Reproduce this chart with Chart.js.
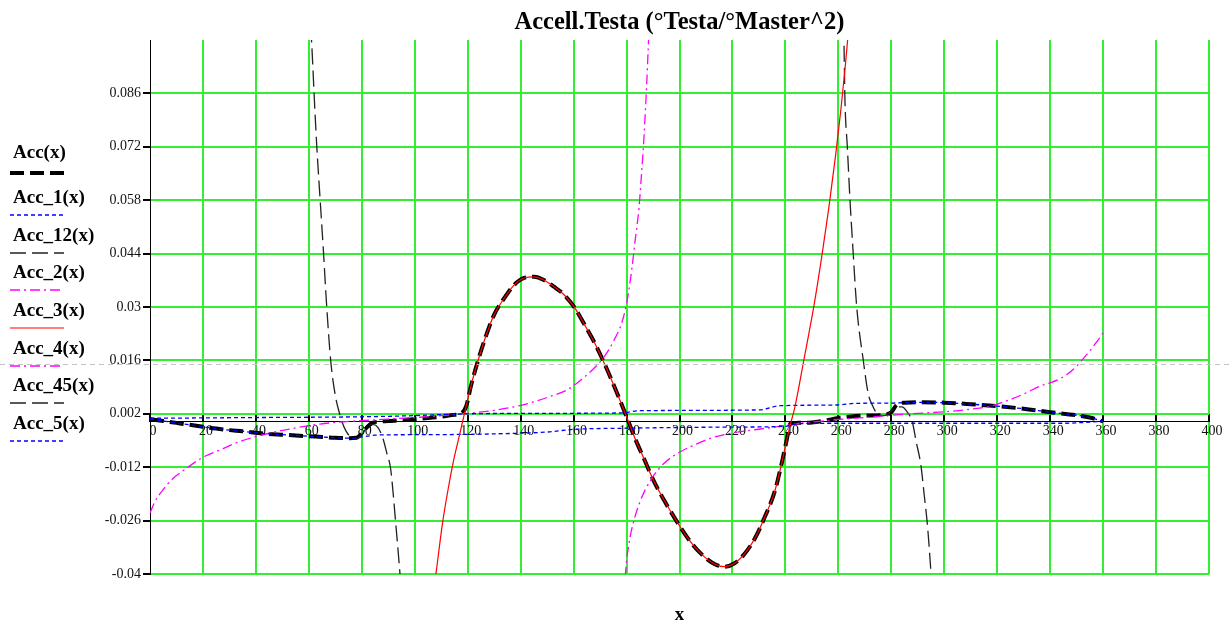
<!DOCTYPE html>
<html>
<head>
<meta charset="utf-8">
<title>Accell.Testa</title>
<script src="https://cdn.jsdelivr.net/npm/chart.js@4.4.1/dist/chart.umd.min.js"></script>
<style>
  html, body { margin: 0; padding: 0; background: #fff; }
</style>
</head>
<body>
<canvas id="acc-chart" width="1232" height="624"></canvas>
<script>
// legend names, in the order Mathcad lists them
const seriesNames = ["Acc(x)", "Acc_1(x)", "Acc_12(x)", "Acc_2(x)", "Acc_3(x)", "Acc_4(x)", "Acc_45(x)", "Acc_5(x)"];

const xTicks = [0, 20, 40, 60, 80, 100, 120, 140, 160, 180, 200, 220, 240, 260, 280, 300, 320, 340, 360, 380, 400];
const yTicks = [-0.04, -0.026, -0.012, 0.002, 0.016, 0.03, 0.044, 0.058, 0.072, 0.086];
const yTickLabels = ["-0.04", "-0.026", "-0.012", "0.002", "0.016", "0.03", "0.044", "0.058", "0.072", "0.086"];
const markerY = 0.0151;   // grey horizontal marker

// Acc(x) - thick black dashed
const accX = [0, 5, 10, 15, 20, 25, 30, 35, 40, 45, 50, 55, 60, 65, 70, 75, 78, 80, 82, 84, 86, 90, 95, 100, 105, 110, 115, 117,
  119.4, 121.3, 123.8, 126.3, 130, 133.8, 137.6, 141.3, 145.1, 148.9, 152.6, 156.4, 160.2, 164, 168, 172, 176, 180, 183.4, 186.6,
  190.4, 194.2, 199.2, 203, 208.1, 213.2, 217, 220.8, 224.6, 228.4, 232.2, 236, 238.5, 240.4, 242,
  244, 250, 255, 260, 265, 270, 278, 280, 282, 285, 290, 300, 310, 320, 330, 340, 350, 355, 360];
const accY = [0.0006, 0.0001, -0.0004, -0.0009, -0.0014, -0.0019, -0.0023, -0.0026, -0.003, -0.0033, -0.0035, -0.0037, -0.0039, -0.0041, -0.0043, -0.0044, -0.0043, -0.0032, -0.0015, -0.0004, -0.0001, 0.0001, 0.0003, 0.0006, 0.0009, 0.0012, 0.0017, 0.0019,
  0.0039, 0.0095, 0.0157, 0.0212, 0.028, 0.0323, 0.0358, 0.0376, 0.0379, 0.037, 0.0353, 0.0332, 0.030, 0.0255, 0.0205, 0.0146, 0.0081, 0.0012, -0.0048, -0.0098,
  -0.0158, -0.0207, -0.0265, -0.0305, -0.0347, -0.0374, -0.0381, -0.0372, -0.0347, -0.0308, -0.0251, -0.0183, -0.0113, -0.0052, -0.0005,
  -0.0004, -0.0003, 0.0002, 0.0009, 0.0013, 0.0015, 0.0018, 0.0024, 0.0043, 0.0049, 0.005, 0.0049, 0.0045, 0.004, 0.0033, 0.0024, 0.0016, 0.001, 0];

// Acc_1(x) - blue dotted, lower one
const acc1X = [0, 5, 10, 15, 20, 25, 30, 35, 40, 45, 50, 55, 60, 65, 70, 75, 78,
  82, 85, 100, 120, 140, 150, 160, 180, 200, 220, 240, 245, 260, 300, 345, 355, 360];
const acc1Y = [0.0006, 0.0001, -0.0004, -0.0009, -0.0014, -0.0019, -0.0023, -0.0026, -0.003, -0.0033, -0.0035, -0.0037, -0.0039, -0.0041, -0.0043, -0.0044, -0.0043,
  -0.0039, -0.0036, -0.0035, -0.0034, -0.0031, -0.0028, -0.0021, -0.0018, -0.0016, -0.0015, -0.0013, -0.0006, -0.0005, -0.0005, -0.0005, -0.0002, 0];

// Acc_12(x) - black long dash, left
const acc12X = [59.5, 61, 62.3, 63, 64.2, 65.5, 66.7, 68.3, 69.9, 71.8, 72.4, 74, 76, 78, 80, 82, 84, 86, 88, 89.5, 90.9, 92.8, 94.4, 95.2];
const acc12Y = [0.115, 0.1, 0.0813, 0.072, 0.0588, 0.0447, 0.0306, 0.0156, 0.0072, 0.0015, 0.0001, -0.0025, -0.0042, -0.0046, -0.0035, -0.0015, -0.0008, -0.0015, -0.0045, -0.0085, -0.0125, -0.0266, -0.0398, -0.047];

// Acc_2(x) - magenta dash-dot, first half
const acc2X = [0, 1.9, 4.4, 8.2, 14, 19.5, 26.4, 32.7, 41.5, 52.9, 64.2, 75.5, 90, 100, 110, 120, 130, 141.3, 151.4, 157.7,
  163.9, 171.5, 175.2, 178.4, 180.3, 182.1, 183.1, 184.7, 185.7, 186.6, 187.3, 187.9, 188.3, 188.7];
const acc2Y = [-0.024, -0.021, -0.0184, -0.0153, -0.0122, -0.0096, -0.0075, -0.0056, -0.0037, -0.002, -0.0007, 0, 0.0006, 0.001, 0.0015, 0.0021, 0.0029, 0.0044, 0.0066, 0.0083,
  0.0115, 0.0169, 0.0212, 0.0263, 0.032, 0.0405, 0.0466, 0.056, 0.0653, 0.0747, 0.084, 0.093, 0.1, 0.108];

// Acc_3(x) - red solid
const acc3X = [106, 108, 110.5, 112.5, 114.6, 116.5, 118,
  119.4, 121.3, 123.8, 126.3, 130, 133.8, 137.6, 141.3, 145.1, 148.9, 152.6, 156.4, 160.2, 164, 168, 172, 176, 180, 183.4, 186.6,
  190.4, 194.2, 199.2, 203, 208.1, 213.2, 217, 220.8, 224.6, 228.4, 232.2, 236, 238.5, 240.4, 242,
  243.5, 247, 250.7, 253.9, 256.4, 259, 261, 262.6, 263.5, 264.5];
const acc3Y = [-0.05, -0.04, -0.0266, -0.0182, -0.0105, -0.0048, -0.0003,
  0.0039, 0.0095, 0.0157, 0.0212, 0.028, 0.0323, 0.0358, 0.0376, 0.0379, 0.037, 0.0353, 0.0332, 0.030, 0.0255, 0.0205, 0.0146, 0.0081, 0.0012, -0.0048, -0.0098,
  -0.0158, -0.0207, -0.0265, -0.0305, -0.0347, -0.0374, -0.0381, -0.0372, -0.0347, -0.0308, -0.0251, -0.0183, -0.0113, -0.0052, -0.0005,
  0.0035, 0.0162, 0.030, 0.044, 0.056, 0.070, 0.082, 0.093, 0.1, 0.108];

// Acc_4(x) - magenta dash-dot, second half
const acc4X = [179.2, 179.6, 180.9, 182.8, 185.3, 189.1, 194.2, 200.5, 205.6, 211.9, 219.5, 228.4, 236, 245.5, 253, 260,
  270, 280, 290, 300, 310, 317, 322, 326, 331, 336, 340, 344, 348.7, 353.8, 357, 360];
const acc4Y = [-0.046, -0.04, -0.0321, -0.026, -0.0207, -0.0154, -0.011, -0.0079, -0.0062, -0.0044, -0.0031, -0.0022, -0.0015, -0.0005, 0, 0.0005,
  0.001, 0.0016, 0.0021, 0.0025, 0.0032, 0.0039, 0.005, 0.006, 0.0075, 0.0092, 0.0101, 0.0113, 0.0136, 0.0175, 0.0203, 0.0232];

// Acc_45(x) - black long dash, right
const acc45X = [261.6, 262.1, 262.5, 263.4, 264.4, 265.6, 266.9, 269.4, 271.3, 272.8, 274.7, 277.3, 279.8, 282.3, 284, 286, 288, 289.3, 291.2, 292.4, 293.7, 295, 295.6];
const acc45Y = [0.11, 0.1, 0.0841, 0.0719, 0.058, 0.0442, 0.0303, 0.0161, 0.0072, 0.0043, 0.002, 0.0015, 0.0025, 0.0038, 0.0038, 0.0025, -0.0003, -0.005, -0.0116, -0.0191, -0.0276, -0.0398, -0.046];

// Acc_5(x) - blue dotted, upper one
const acc5X = [0, 40, 80, 100, 115, 140, 178, 185, 230, 238, 260, 266, 280, 290, 300, 310, 320, 330, 340, 350, 355, 360];
const acc5Y = [0.0008, 0.001, 0.0012, 0.0015, 0.0019, 0.0021, 0.0022, 0.0028, 0.003, 0.0041, 0.0043, 0.0047, 0.0048, 0.005, 0.0049, 0.0045, 0.004, 0.0033, 0.0024, 0.0016, 0.001, 0];


function pts(xs, ys) {
  return xs.map((x, i) => ({ x: x, y: ys[i] }));
}

function serie(i, xs, ys, color, width, dash, order) {
  return {
    label: seriesNames[i],
    data: pts(xs, ys),
    borderColor: color,
    borderWidth: width,
    borderDash: dash,
    borderCapStyle: 'butt',
    pointRadius: 0,
    fill: false,
    cubicInterpolationMode: 'monotone',
    order: order
  };
}

const gridGreen = '#33ee33';
const serif = '"Liberation Serif", "Times New Roman", serif';

// legend on the left: name on top, line sample under it
const sideLegend = {
  id: 'sideLegend',
  afterDraw(chart) {
    const ctx = chart.ctx;
    const tops = [145, 190, 228, 265, 303, 341, 378, 416];
    ctx.save();
    // grey marker line across the whole picture
    const my = Math.round(chart.scales.y.getPixelForValue(markerY)) + 0.5;
    ctx.strokeStyle = '#c4c4c4';
    ctx.lineWidth = 1;
    ctx.setLineDash([5, 4]);
    ctx.beginPath();
    ctx.moveTo(0, my);
    ctx.lineTo(chart.width, my);
    ctx.stroke();

    chart.data.datasets.forEach((ds, i) => {
      const top = tops[i];
      ctx.setLineDash([]);
      ctx.font = 'bold 19px ' + serif;
      ctx.fillStyle = '#000';
      ctx.textAlign = 'left';
      ctx.textBaseline = 'alphabetic';
      ctx.fillText(ds.label, 13, top + 13);
      const ly = top + (i === 0 ? 28 : 25);
      ctx.strokeStyle = ds.borderColor;
      ctx.lineWidth = ds.borderWidth;
      ctx.setLineDash(ds.borderDash || []);
      ctx.beginPath();
      ctx.moveTo(10, ly);
      ctx.lineTo(64, ly);
      ctx.stroke();
    });
    ctx.restore();
  }
};

new Chart("acc-chart", {
  type: 'line',
  data: {
    datasets: [
      serie(0, accX, accY, '#000000', 4, [14, 6], 9),
      serie(1, acc1X, acc1Y, '#0000ff', 1.3, [4, 3], 3),
      serie(2, acc12X, acc12Y, '#222222', 1.3, [16, 6], 5),
      serie(3, acc2X, acc2Y, '#ff00ff', 1.3, [10, 4, 2, 4], 4),
      serie(4, acc3X, acc3Y, '#ff0000', 1.2, [], 1),
      serie(5, acc4X, acc4Y, '#ff00ff', 1.3, [10, 4, 2, 4], 4),
      serie(6, acc45X, acc45Y, '#222222', 1.3, [16, 6], 5),
      serie(7, acc5X, acc5Y, '#0000ff', 1.3, [4, 3], 3)
    ]
  },
  options: {
    responsive: false,
    animation: false,
    events: [],
    layout: { padding: { left: 0, right: 23, top: 0, bottom: 0 } },
    scales: {
      x: {
        type: 'linear',
        min: 0,
        max: 400,
        position: { y: 0 },
        afterBuildTicks: (s) => { s.ticks = xTicks.map(v => ({ value: v })); },
        grid: {
          color: (c) => (c.tick && c.tick.value === 0) ? 'rgba(0,0,0,0)' : gridGreen,
          lineWidth: 2,
          tickColor: '#000',
          tickLength: -8
        },
        border: { display: true, color: '#000', width: 1 },
        ticks: {
          autoSkip: false,
          maxRotation: 0,
          padding: 10,
          labelOffset: 3,
          color: '#111',
          font: { family: serif, size: 14 },
          callback: (v) => String(v)
        }
      },
      y: {
        type: 'linear',
        min: -0.04,
        max: 0.1,
        position: 'left',
        afterFit: (s) => { s.width = 150; },
        afterBuildTicks: (s) => { s.ticks = yTicks.map(v => ({ value: v })); },
        grid: {
          color: gridGreen,
          lineWidth: 2,
          tickColor: '#000',
          tickLength: 7
        },
        border: { display: true, color: '#000', width: 1 },
        ticks: {
          padding: 2,
          color: '#111',
          font: { family: serif, size: 14 },
          callback: (v, i) => yTickLabels[i]
        }
      }
    },
    plugins: {
      legend: { display: false },
      tooltip: { enabled: false },
      title: {
        display: true,
        fullSize: false,
        text: 'Accell.Testa (°Testa/°Master^2)',
        color: '#000',
        font: { family: serif, size: 24.5, weight: 'bold' },
        padding: { top: 8, bottom: 2.6 }
      },
      subtitle: {
        display: true,
        position: 'bottom',
        fullSize: false,
        text: 'x',
        color: '#000',
        font: { family: serif, size: 19, weight: 'bold', lineHeight: 0.9 },
        padding: { top: 33, bottom: 0 }
      }
    }
  },
  plugins: [sideLegend]
});
</script>
</body>
</html>
